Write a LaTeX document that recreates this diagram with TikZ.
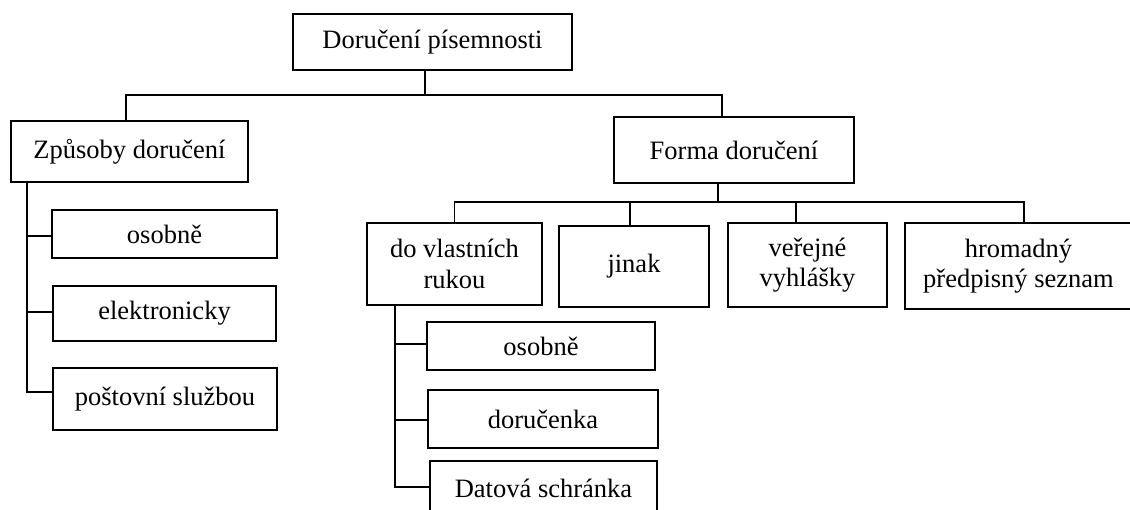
\documentclass[tikz,border=0pt]{standalone}
\usepackage{fontspec}
\setmainfont{Liberation Serif}
\usepackage{tikz}

\tikzset{
	box/.style={draw, line width=1.7pt, inner sep=0pt, align=center,
		font=\fontsize{26.5}{30.5}\selectfont},
	link/.style={line width=1.7pt}
}

\begin{document}
\begin{tikzpicture}[x=1pt,y=-1pt]
		\useasboundingbox (0,0) rectangle (1130,510);
		
		\node[box, minimum width=279, minimum height=56] (root)   at ( 432.5,  42.0) {Doručení písemnosti};
		
		\node[box, minimum width=237, minimum height=61] (zpusob) at ( 129.5, 151.5) {Způsoby doručení};
		\node[box, minimum width=240, minimum height=66] (forma)  at ( 734.0, 150.0) {Forma doručení};
		
		\node[box, minimum width=225, minimum height=48] (zosob)  at ( 164.5, 234.0) {osobně};
		\node[box, minimum width=223, minimum height=55] (zelek)  at ( 164.5, 313.5) {elektronicky};
		\node[box, minimum width=224, minimum height=62] (zpost)  at ( 165.0, 399.0) {poštovní službou};
		
		\node[box, minimum width=175, minimum height=82] (rukou)  at ( 454.5, 264.0) {do vlastních\\rukou};
		\node[box, minimum width=150, minimum height=81] (jinak)  at ( 634.0, 266.5) {jinak};
		\node[box, minimum width=159, minimum height=84] (verej)  at ( 807.5, 265.0) {veřejné\\vyhlášky};
		\node[box, minimum width=227, minimum height=86] (hromad) at (1018.5, 266.0) {hromadný\\předpisný seznam};
		
		\node[box, minimum width=228, minimum height=48] (rosob)  at ( 541.0, 346.0) {osobně};
		\node[box, minimum width=230, minimum height=58] (rdoruc) at ( 543.0, 419.0) {doručenka};
		\node[box, minimum width=227, minimum height=54] (rdatov) at ( 543.5, 488.0) {Datová schránka};
		
		\coordinate (topbus) at (425,95);
		\coordinate (lbus)   at (126,95);
		\coordinate (rbus)   at (722,95);
		\coordinate (fbus)   at (718,202);
		\coordinate (zspine) at (27,0);
		\coordinate (rspine) at (395,0);
		
		\draw[link] (root.south -| topbus) -- (topbus);
		\draw[link] (zpusob.north -| lbus) -- (lbus) -- (rbus) -- (forma.north -| rbus);
		
		\draw[link] (forma.south -| fbus) -- (fbus);
		\draw[link] (rukou.north) |- (fbus -| 1024,0) -- (1024,0 |- hromad.north);
		\draw[link] (630,0 |- fbus) -- (630,0 |- jinak.north);
		\draw[link] (796,0 |- fbus) -- (796,0 |- verej.north);
		
		\draw[link] (zpusob.south -| zspine) -- (zspine |- 0,392) -- (zpost.west |- 0,392);
		\draw[link] (zspine |- 0,236) -- (zosob.west |- 0,236);
		\draw[link] (zspine |- 0,312) -- (zelek.west |- 0,312);
		
		\draw[link] (rukou.south -| rspine) -- (rspine |- 0,487) -- (rdatov.west |- 0,487);
		\draw[link] (rspine |- 0,344) -- (rosob.west |- 0,344);
		\draw[link] (rspine |- 0,420) -- (rdoruc.west |- 0,420);
		
	\end{tikzpicture}
\end{document}
